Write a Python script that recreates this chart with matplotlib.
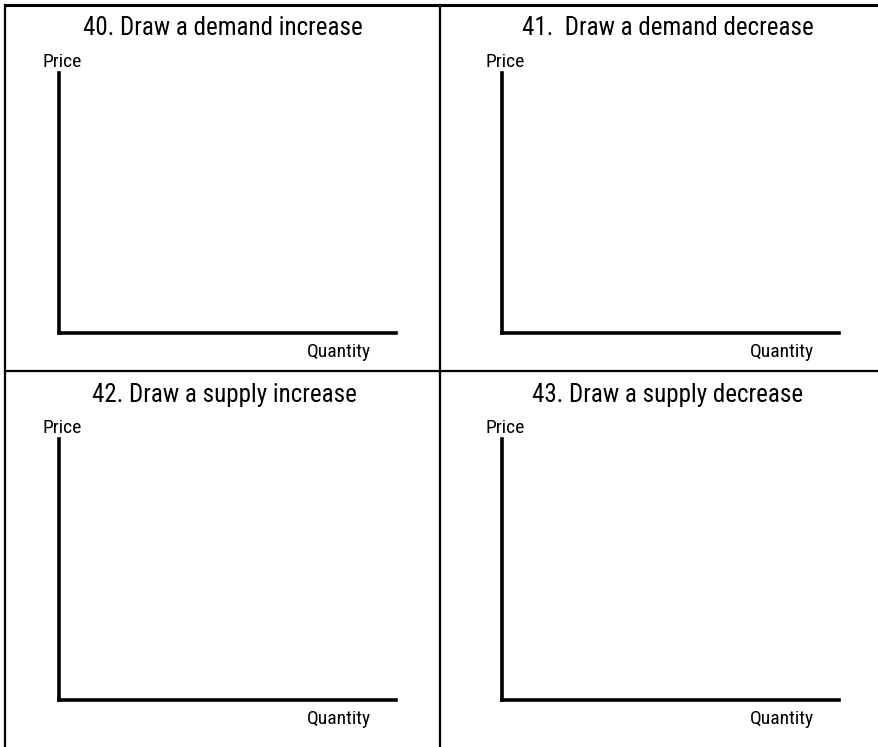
import matplotlib.pyplot as plt
from matplotlib.lines import Line2D

plt.rcParams['font.family'] = ['Roboto Condensed', 'DejaVu Sans Condensed',
                               'Liberation Sans Narrow', 'Roboto', 'DejaVu Sans']

W, H = 879, 747

titles = ["40. Draw a demand increase", "41.  Draw a demand decrease",
          "42. Draw a supply increase", "43. Draw a supply decrease"]
title_x = [223, 668, 224, 668]
title_y = [28, 28, 395, 395]
y_label = "Price"
x_label = "Quantity"

# graph boxes in pixels: left, right, top, bottom
boxes = [(59, 396, 73, 333), (502, 839, 73, 333),
         (59, 396, 439, 700), (502, 839, 439, 700)]

fig = plt.figure(figsize=(W / 100, H / 100), dpi=100)

bg = fig.add_axes([0, 0, 1, 1])
bg.set_xlim(0, W)
bg.set_ylim(H, 0)
bg.axis('off')

# worksheet grid
bg.add_line(Line2D([5, W], [5, 5], color='black', lw=2.2))
bg.add_line(Line2D([5, 5], [5, H], color='black', lw=1.6))
bg.add_line(Line2D([440, 440], [5, H], color='black', lw=1.6))
bg.add_line(Line2D([5, W], [371, 371], color='black', lw=1.6))

for i, (l, r, t, b) in enumerate(boxes):
    ax = fig.add_axes([l / W, 1 - b / H, (r - l) / W, (b - t) / H])
    for s in ['top', 'right']:
        ax.spines[s].set_visible(False)
    ax.spines['left'].set_linewidth(2.6)
    ax.spines['bottom'].set_linewidth(2.6)
    ax.set_xticks([])
    ax.set_yticks([])

    bg.text(title_x[i], title_y[i], titles[i], ha='center', va='center', fontsize=18)
    bg.text(l - 16, t - 11, y_label, ha='left', va='center', fontsize=14)
    bg.text(r - 57, b + 19, x_label, ha='center', va='center', fontsize=14)

plt.savefig('out.png', dpi=100)
